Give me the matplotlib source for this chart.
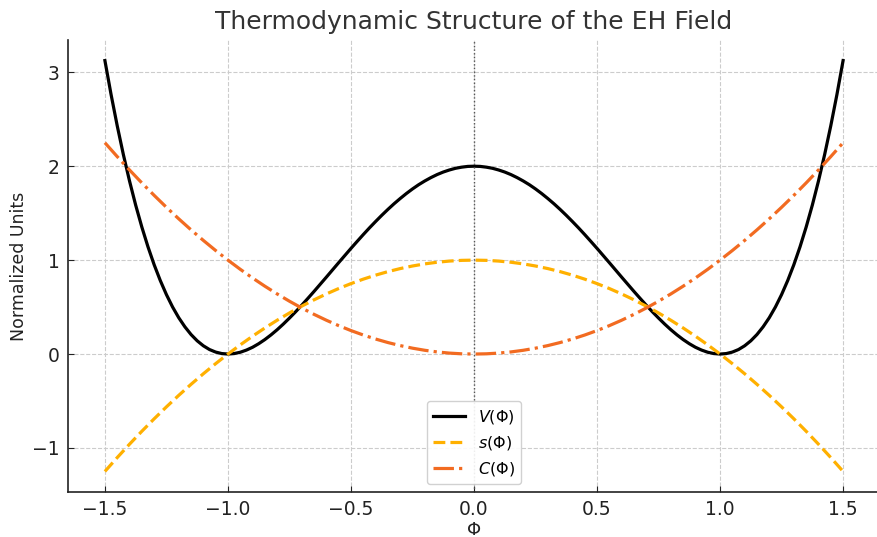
import matplotlib
matplotlib.use("Agg")
import matplotlib.pyplot as plt

# Sample positions for s and C (step 0.05)
phi = [-1.5, -1.45, -1.4, -1.35, -1.3, -1.25, -1.2, -1.15, -1.1, -1.05,
       -1.0, -0.95, -0.9, -0.85, -0.8, -0.75, -0.7, -0.65, -0.6, -0.55,
       -0.5, -0.45, -0.4, -0.35, -0.3, -0.25, -0.2, -0.15, -0.1, -0.05,
       0.0, 0.05, 0.1, 0.15, 0.2, 0.25, 0.3, 0.35, 0.4, 0.45,
       0.5, 0.55, 0.6, 0.65, 0.7, 0.75, 0.8, 0.85, 0.9, 0.95,
       1.0, 1.05, 1.1, 1.15, 1.2, 1.25, 1.3, 1.35, 1.4, 1.45, 1.5]

s_vals = [-1.25, -1.1025, -0.96, -0.8225, -0.69, -0.5625, -0.44, -0.3225, -0.21, -0.1025,
          0.0, 0.0975, 0.19, 0.2775, 0.36, 0.4375, 0.51, 0.5775, 0.64, 0.6975,
          0.75, 0.7975, 0.84, 0.8775, 0.91, 0.9375, 0.96, 0.9775, 0.99, 0.9975,
          1.0, 0.9975, 0.99, 0.9775, 0.96, 0.9375, 0.91, 0.8775, 0.84, 0.7975,
          0.75, 0.6975, 0.64, 0.5775, 0.51, 0.4375, 0.36, 0.2775, 0.19, 0.0975,
          0.0, -0.1025, -0.21, -0.3225, -0.44, -0.5625, -0.69, -0.8225, -0.96, -1.1025, -1.25]

C_vals = [2.25, 2.1025, 1.96, 1.8225, 1.69, 1.5625, 1.44, 1.3225, 1.21, 1.1025,
          1.0, 0.9025, 0.81, 0.7225, 0.64, 0.5625, 0.49, 0.4225, 0.36, 0.3025,
          0.25, 0.2025, 0.16, 0.1225, 0.09, 0.0625, 0.04, 0.0225, 0.01, 0.0025,
          0.0, 0.0025, 0.01, 0.0225, 0.04, 0.0625, 0.09, 0.1225, 0.16, 0.2025,
          0.25, 0.3025, 0.36, 0.4225, 0.49, 0.5625, 0.64, 0.7225, 0.81, 0.9025,
          1.0, 1.1025, 1.21, 1.3225, 1.44, 1.5625, 1.69, 1.8225, 1.96, 2.1025, 2.25]

# Denser sample positions for V (step 0.025)
phi_V = [-1.5, -1.475, -1.45, -1.425, -1.4, -1.375, -1.35, -1.325, -1.3, -1.275,
         -1.25, -1.225, -1.2, -1.175, -1.15, -1.125, -1.1, -1.075, -1.05, -1.025,
         -1.0, -0.975, -0.95, -0.925, -0.9, -0.875, -0.85, -0.825, -0.8, -0.775,
         -0.75, -0.725, -0.7, -0.675, -0.65, -0.625, -0.6, -0.575, -0.55, -0.525,
         -0.5, -0.475, -0.45, -0.425, -0.4, -0.375, -0.35, -0.325, -0.3, -0.275,
         -0.25, -0.225, -0.2, -0.175, -0.15, -0.125, -0.1, -0.075, -0.05, -0.025,
         0.0,
         0.025, 0.05, 0.075, 0.1, 0.125, 0.15, 0.175, 0.2, 0.225, 0.25,
         0.275, 0.3, 0.325, 0.35, 0.375, 0.4, 0.425, 0.45, 0.475, 0.5,
         0.525, 0.55, 0.575, 0.6, 0.625, 0.65, 0.675, 0.7, 0.725, 0.75,
         0.775, 0.8, 0.825, 0.85, 0.875, 0.9, 0.925, 0.95, 0.975, 1.0,
         1.025, 1.05, 1.075, 1.1, 1.125, 1.15, 1.175, 1.2, 1.225, 1.25,
         1.275, 1.3, 1.325, 1.35, 1.375, 1.4, 1.425, 1.45, 1.475, 1.5]

V_vals = [3.125, 2.764, 2.431, 2.124, 1.843, 1.586, 1.353, 1.142, 0.952, 0.783,
          0.633, 0.501, 0.387, 0.290, 0.208, 0.141, 0.088, 0.048, 0.021, 0.005,
          0.0, 0.005, 0.019, 0.042, 0.072, 0.110, 0.154, 0.204, 0.259, 0.319,
          0.383, 0.450, 0.520, 0.593, 0.667, 0.743, 0.819, 0.896, 0.973, 1.049,
          1.125, 1.199, 1.272, 1.343, 1.411, 1.477, 1.540, 1.600, 1.656, 1.709,
          1.758, 1.803, 1.843, 1.879, 1.911, 1.938, 1.960, 1.978, 1.990, 1.998,
          2.0,
          1.998, 1.990, 1.978, 1.960, 1.938, 1.911, 1.879, 1.843, 1.803, 1.758,
          1.709, 1.656, 1.600, 1.540, 1.477, 1.411, 1.343, 1.272, 1.199, 1.125,
          1.049, 0.973, 0.896, 0.819, 0.743, 0.667, 0.593, 0.520, 0.450, 0.383,
          0.319, 0.259, 0.204, 0.154, 0.110, 0.072, 0.042, 0.019, 0.005, 0.0,
          0.005, 0.021, 0.048, 0.088, 0.141, 0.208, 0.290, 0.387, 0.501, 0.633,
          0.783, 0.952, 1.142, 1.353, 1.586, 1.843, 2.124, 2.431, 2.764, 3.125]

labels = [r"$V(\Phi)$", r"$s(\Phi)$", r"$C(\Phi)$"]
title = "Thermodynamic Structure of the EH Field"

W, H = 877, 537
fig = plt.figure(figsize=(W / 100, H / 100), dpi=100)
ax = fig.add_axes([68 / W, 1 - 492 / H, (880 - 68) / W, (492 - 40) / H])

ax.plot(phi_V, V_vals, color="black", lw=2.3, label=labels[0])
ax.plot(phi, s_vals, color="#FFB000", lw=2.3, ls="--", label=labels[1])
ax.plot(phi, C_vals, color="#F26B21", lw=2.3, ls="-.", label=labels[2])
ax.axvline(0, color="#555555", lw=1, ls=":")

ax.set_xlim(-1.65, 1.65)
ax.set_ylim(-1.469, 3.344)
ax.set_xticks([-1.5, -1.0, -0.5, 0.0, 0.5, 1.0, 1.5])
ax.set_yticks([-1, 0, 1, 2, 3])
ax.grid(True, color="#cccccc", ls="--", lw=0.8)
ax.set_axisbelow(True)
for sp in ["top", "right"]:
    ax.spines[sp].set_visible(False)
for sp in ["left", "bottom"]:
    ax.spines[sp].set_color("#222222")
    ax.spines[sp].set_linewidth(1.2)
ax.tick_params(direction="in", labelsize=13.5, colors="#222222", length=4)
ax.tick_params(axis="x", pad=6)
ax.tick_params(axis="y", pad=6)
ax.set_xlabel("Φ", fontsize=13, color="#222222", labelpad=1)
ax.set_ylabel("Normalized Units", fontsize=12.5, color="#222222", labelpad=3)
ax.set_title(title, fontsize=18, color="#333333", pad=8)
ax.legend(loc="lower center", fontsize=11.5, framealpha=0.9, edgecolor="#cccccc")

fig.savefig("out.png", dpi=100)
